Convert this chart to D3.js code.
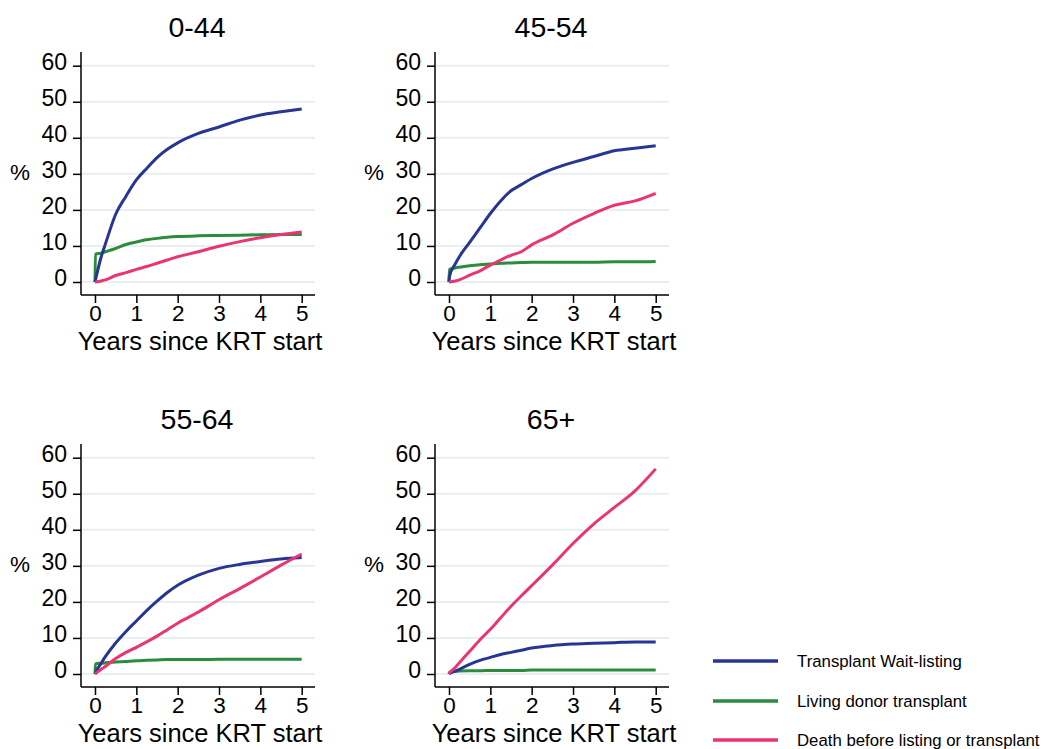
<!DOCTYPE html>
<html>
<head>
<meta charset="utf-8">
<script src="https://cdn.jsdelivr.net/npm/d3@7"></script>
<style>
  html, body { margin: 0; padding: 0; background: #ffffff; }
  svg { display: block; }
  text { font-family: "Liberation Sans", Arial, sans-serif; fill: #000; }
</style>
</head>
<body>
<svg id="chart" width="1043" height="749"></svg>
<script>
// ---- Data ----
const years = [0, 0.01, 0.15, 0.25, 0.5, 0.75, 1, 1.25, 1.5, 1.75, 2, 2.5, 3, 3.5, 4, 4.5, 5];
const yTicks = [0, 10, 20, 30, 40, 50, 60];
const xTicks = [0, 1, 2, 3, 4, 5];
const panelTitles = ["0-44", "45-54", "55-64", "65+"];
const seriesNames = ["Transplant Wait-listing", "Living donor transplant", "Death before listing or transplant"];
const seriesColors = ["#283593", "#2a8c3c", "#eb3573"];

// Panel 0-44
const wait0044  = [0, 0.5, 7.0, 10.5, 18.8, 23.8, 28.3, 31.5, 34.5, 36.8, 38.6, 41.2, 43.0, 44.9, 46.3, 47.2, 48.0];
const living0044 = [0, 7.7, 8.0, 8.4, 9.3, 10.4, 11.1, 11.7, 12.1, 12.4, 12.6, 12.8, 12.9, 13.0, 13.1, 13.2, 13.2];
const death0044 = [0, 0, 0.3, 0.6, 1.8, 2.6, 3.5, 4.3, 5.2, 6.1, 7.0, 8.4, 9.9, 11.2, 12.3, 13.2, 13.9];
// Panel 45-54
const wait4554  = [0, 1.5, 5.0, 7.0, 11.0, 15.0, 19.0, 22.5, 25.3, 27.0, 28.7, 31.3, 33.2, 34.8, 36.4, 37.1, 37.8];
const living4554 = [0, 3.5, 3.9, 4.1, 4.5, 4.8, 5.0, 5.2, 5.3, 5.4, 5.5, 5.5, 5.5, 5.5, 5.6, 5.6, 5.7];
const death4554 = [0, 0, 0.3, 0.6, 1.9, 3.1, 4.7, 6.1, 7.4, 8.4, 10.3, 13.0, 16.3, 19.0, 21.3, 22.5, 24.6];
// Panel 55-64
const wait5564  = [0, 0.3, 3.0, 4.8, 8.6, 11.8, 14.7, 17.6, 20.2, 22.6, 24.6, 27.4, 29.3, 30.4, 31.2, 31.9, 32.3];
const living5564 = [0, 2.8, 3.0, 3.1, 3.3, 3.5, 3.7, 3.8, 3.9, 4.0, 4.0, 4.0, 4.1, 4.1, 4.1, 4.1, 4.1];
const death5564 = [0, 0.1, 1.3, 2.1, 4.3, 6.0, 7.4, 8.9, 10.5, 12.3, 14.1, 17.2, 20.6, 23.7, 26.9, 30.2, 33.3];
// Panel 65+
const wait65  = [0, 0.1, 0.8, 1.3, 2.7, 3.8, 4.6, 5.4, 6.0, 6.6, 7.2, 7.9, 8.3, 8.5, 8.7, 8.9, 8.9];
const living65 = [0, 0.5, 0.7, 0.8, 0.9, 0.9, 1.0, 1.0, 1.0, 1.0, 1.1, 1.1, 1.1, 1.1, 1.1, 1.1, 1.1];
const death65 = [0, 0.2, 1.8, 3.1, 6.3, 9.5, 12.4, 15.6, 18.8, 21.7, 24.5, 30.2, 36.2, 41.6, 46.2, 50.8, 56.9];

const panelData = [
  [wait0044, living0044, death0044],
  [wait4554, living4554, death4554],
  [wait5564, living5564, death5564],
  [wait65, living65, death65]
];

// ---- Layout ----
const svg = d3.select("#chart");
const frameW = 234, frameH = 243;
const x = d3.scaleLinear().domain([0, 5]).range([14, 220.7]);
const y = d3.scaleLinear().domain([0, 60]).range([230, 13.7]);
const line = d3.line().x(d => x(d[0])).y(d => y(d[1])).curve(d3.curveMonotoneX);

panelTitles.forEach((title, i) => {
  const col = i % 2, row = Math.floor(i / 2);
  const g = svg.append("g").attr("transform", `translate(${81 + 354 * col},${52 + 392 * row})`);

  // gridlines
  g.selectAll("line.grid").data(yTicks).join("line")
    .attr("class", "grid")
    .attr("x1", 0).attr("x2", frameW)
    .attr("y1", d => y(d)).attr("y2", d => y(d))
    .attr("stroke", "#e8eef2").attr("stroke-width", 2);

  // axes
  const yAxis = g.append("g").call(d3.axisLeft(y).tickValues(yTicks).tickFormat(d3.format("d")).tickSize(8).tickPadding(6));
  const xAxis = g.append("g").attr("transform", `translate(0,${frameH})`)
    .call(d3.axisBottom(x).tickValues(xTicks).tickFormat(d3.format("d")).tickSize(8).tickPadding(2));
  [yAxis, xAxis].forEach(a => {
    a.select(".domain").remove();
    a.selectAll(".tick line").attr("stroke", "#000").attr("stroke-width", 1.5);
    a.selectAll(".tick text").attr("fill", "#000")
      .style("font-family", "'Liberation Sans', Arial, sans-serif");
  });
  yAxis.selectAll(".tick text").style("font-size", "23px").attr("dy", "0.15em");
  xAxis.selectAll(".tick text").style("font-size", "22.5px").attr("dy", "0.72em");

  g.append("line").attr("x1", 0).attr("x2", 0).attr("y1", 0).attr("y2", frameH)
    .attr("stroke", "#000").attr("stroke-width", 1.5);
  g.append("line").attr("x1", 0).attr("x2", frameW).attr("y1", frameH).attr("y2", frameH)
    .attr("stroke", "#000").attr("stroke-width", 1.5);

  // series (living, wait, death order for layering)
  [1, 0, 2].forEach(s => {
    const pts = years.map((t, k) => [t, panelData[i][s][k]]);
    g.append("path").datum(pts)
      .attr("d", line)
      .attr("fill", "none")
      .attr("stroke", seriesColors[s])
      .attr("stroke-width", 3)
      .attr("stroke-linejoin", "round");
  });

  // title
  g.append("text").attr("x", 116).attr("y", -15)
    .attr("text-anchor", "middle").style("font-size", "28.5px").text(title);
  // y label
  g.append("text").attr("x", -61).attr("y", 128)
    .attr("text-anchor", "middle").style("font-size", "22.5px").text("%");
  // x label
  g.append("text").attr("x", 119).attr("y", 298)
    .attr("text-anchor", "middle").style("font-size", "25.5px").text("Years since KRT start");
});

// ---- Legend ----
const legendY = [661, 701, 740];
seriesNames.forEach((name, s) => {
  svg.append("line").attr("x1", 713).attr("x2", 778).attr("y1", legendY[s]).attr("y2", legendY[s])
    .attr("stroke", seriesColors[s]).attr("stroke-width", 3.5);
  svg.append("text").attr("x", 797).attr("y", legendY[s] + 6)
    .style("font-size", "16.8px").attr("fill", "#111").text(name);
});
</script>
</body>
</html>
